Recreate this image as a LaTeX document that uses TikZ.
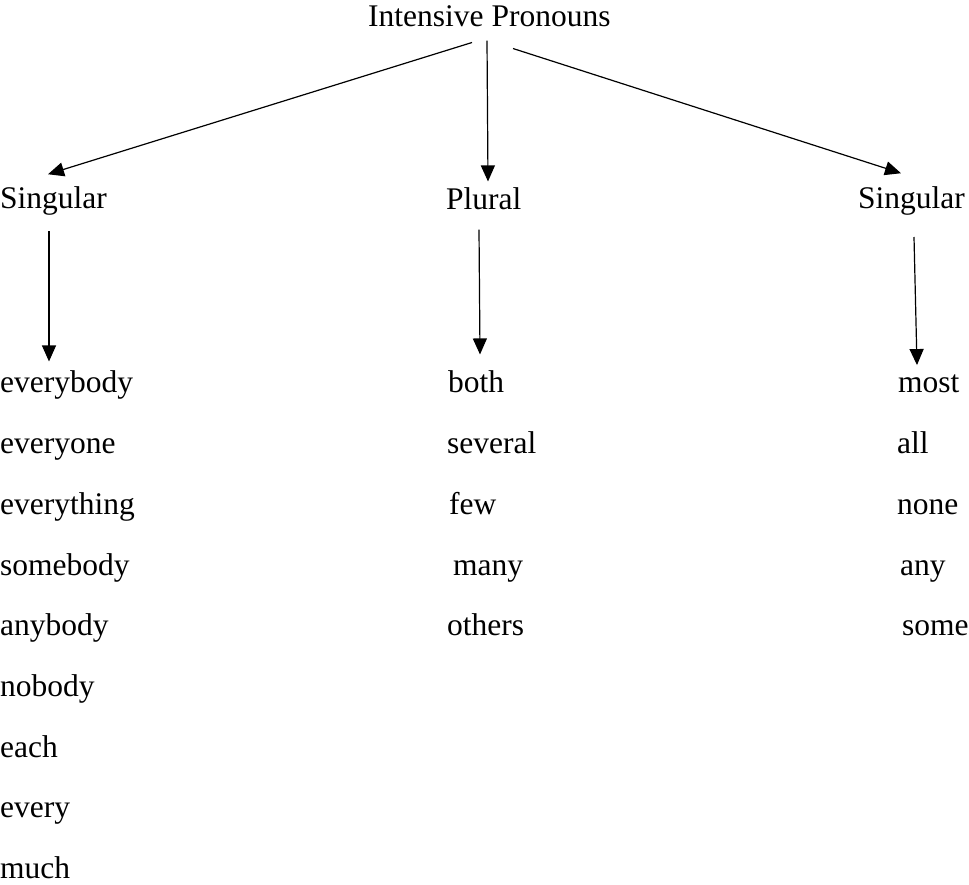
\documentclass[tikz,border=0pt]{standalone}
\usepackage{fontspec}
\setmainfont{Liberation Serif}
\usepackage{tikz}
\usetikzlibrary{arrows.meta,positioning}

\begin{document}
\begin{tikzpicture}[x=1pt,y=-1pt,
    word/.style={inner sep=0pt, anchor=base west, font=\fontsize{31.5}{37}\selectfont},
    arr/.style={-{Triangle[length=16pt,width=14pt]}, line width=1.2pt}]
            \useasboundingbox (0,0) rectangle (969,884);

            \node[word] (title) at (368,26) {Intensive Pronouns};
            \node[word] (sgA) at (0,208) {Singular};
            \node[word] (pl) at (446,209) {Plural};
            \node[word] (sgB) at (858,208) {Singular};

            % singular words
            \node[word] (ev1) at (0,392.5) {everybody};
            \node[word] (ev2) at (0,453) {everyone};
            \node[word] (ev3) at (0,514) {everything};
            \node[word] (ev4) at (0,575) {somebody};
            \node[word] (ev5) at (0,635) {anybody};
            \node[word] (ev6) at (0,696) {nobody};
            \node[word] (ev7) at (0,757) {each};
            \node[word] (ev8) at (0,817) {every};
            \node[word] (ev9) at (0,878) {much};

            % plural words
            \node[word] (pw1) at (448,392.5) {both};
            \node[word] (pw2) at (447,453) {several};
            \node[word] (pw3) at (449,514) {few};
            \node[word] (pw4) at (453,575) {many};
            \node[word] (pw5) at (447,635) {others};

            % right column
            \node[word] (rw1) at (898,392.5) {most};
            \node[word] (rw2) at (897,453) {all};
            \node[word] (rw3) at (897,514) {none};
            \node[word] (rw4) at (900,575) {any};
            \node[word] (rw5) at (902,635) {some};

            \draw[arr] ([xshift=104pt,yshift=-16pt]title.south west) -- ([xshift=48pt,yshift=11.7pt]sgA.north west);
            \draw[arr] ([xshift=119pt,yshift=-14pt]title.south west) -- ([xshift=42pt,yshift=5.5pt]pl.north west);
            \draw[arr] ([xshift=145pt,yshift=-22pt]title.south west) -- ([xshift=43pt,yshift=12.7pt]sgB.north west);

            \draw[arr] ([xshift=49pt,yshift=-16pt]sgA.south west) -- ([xshift=49pt,yshift=9pt]ev1.north west);
            \draw[arr] ([xshift=33pt,yshift=-20pt]pl.south west) -- ([xshift=32pt,yshift=16pt]pw1.north west);
            \draw[arr] ([xshift=56pt,yshift=-22pt]sgB.south west) -- ([xshift=19pt,yshift=9.5pt]rw1.north west);
        \end{tikzpicture}
\end{document}
